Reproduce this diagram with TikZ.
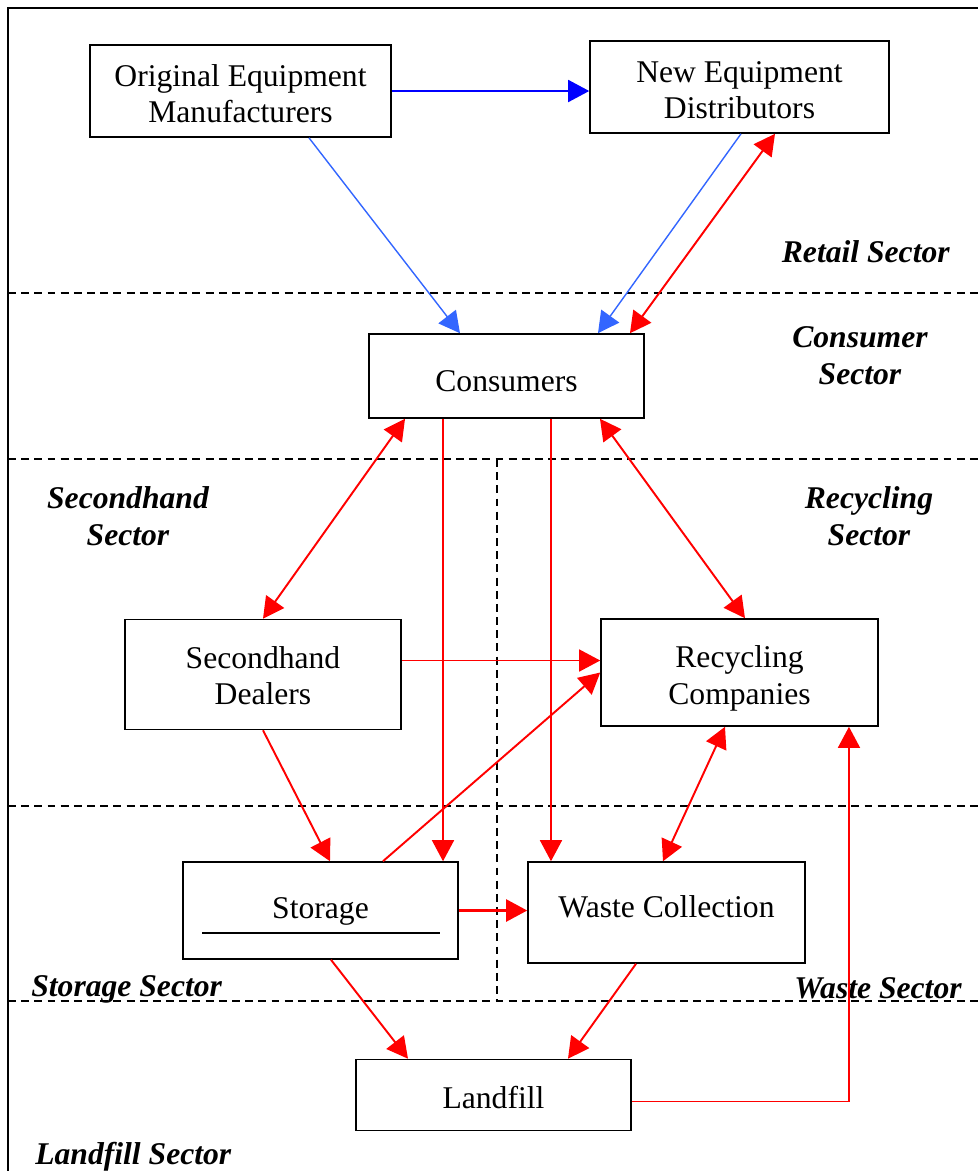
\documentclass[tikz,border=0pt]{standalone}
\usepackage{fontspec}
\setmainfont{Liberation Serif}
\usetikzlibrary{arrows.meta}

\definecolor{supplyblue}{RGB}{51,102,255}
\newcommand{\labelsize}{\fontsize{18}{21}\selectfont}
\newcommand{\tip}{Triangle[length=12pt,width=12.5pt]}

\tikzstyle{box}=[draw,line width=0.9pt,rectangle,align=center,inner sep=0pt]
\tikzstyle{sector}=[font=\labelsize\bfseries\itshape,align=center,inner sep=0pt]
\tikzstyle{divider}=[draw,line width=1pt,dash pattern=on 4.5pt off 3pt]
\tikzstyle{flow}=[draw,line width=1.1pt,red,-{\tip}]
\tikzstyle{twoway}=[draw,line width=1.1pt,red,{\tip}-{\tip}]
\tikzstyle{supply}=[draw,line width=0.8pt,supplyblue,-{\tip}]

\begin{document}
\begin{tikzpicture}[x=0.02cm, y=-0.02cm, font=\labelsize]
    \useasboundingbox (0,0) rectangle (978,1171);
    % frame and sector dividers
    \draw[line width=1pt] (8,1171) -- (8,8) -- (978,8);
    \foreach \y in {293,459,806,1001}
        \path[divider] (8,\y) -- (978,\y);
    \path[divider, line width=0.8pt] (497,459) -- (497,1001);

    % the boxes (\lift sets where the text sits in the box)
    \foreach \pos/\name/\bw/\bh/\lift/\txt in {{(240.5,91)/oem/6.02/1.84/23.4/Original Equipment\\Manufacturers},
        {(739.5,87)/ned/5.98/1.84/23.4/New Equipment\\Distributors},
        {(506.5,376)/cons/5.5/1.68/25.8/Consumers},
        {(263,674.5)/sh/5.52/2.2/21.6/Secondhand\\Dealers},
        {(739.5,672.5)/rec/5.54/2.14/23.8/Recycling\\Companies},
        {(320.5,910.5)/stor/5.5/1.94/16.6/Storage},
        {(666.5,912.5)/waste/5.54/2.02/14.2/Waste Collection},
        {(493.5,1095)/land/5.5/1.42/23.6/Landfill}}
        \node[box, minimum width=\bw cm, minimum height=\bh cm] (\name) at \pos
            {\rule{0pt}{\lift pt}\txt\rule[-8pt]{0pt}{0pt}};
    \draw[line width=1.2pt] ([xshift=0.4cm,yshift=-0.45cm]stor.west) -- ([xshift=-0.38cm,yshift=-0.45cm]stor.east);

    % sector names
    \node[sector, anchor=east] (retail) at (950,252) {Retail Sector};
    \node[sector] (consumer) at (860,356) {Consumer\\Sector};
    \node[sector] (secondhand) at (128,516) {Secondhand\\Sector};
    \node[sector] (recycling) at (869,516) {Recycling\\Sector};
    \node[sector, anchor=west] (storage) at (31,989) {Storage Sector};
    \node[sector, anchor=east] (wastesec) at (962,988) {Waste Sector};
    \node[sector, anchor=west] (landfill) at (35,1157) {Landfill Sector};

    % new goods
    \path[supply, blue, line width=1.2pt] (oem.east) -- (oem.east -| ned.west);
    \foreach \source/\sx/\dest/\dx in {oem.south/1.37/cons.north/-0.93, ned.south/0.03/cons.north/1.83}
        \path[supply] ([xshift=\sx cm]\source) -- ([xshift=\dx cm]\dest);

    % used goods
    \foreach \source/\sx/\dest/\dx in {ned.south/0.71/cons.north/2.47, cons.south/-2.03/sh.north/0,
        cons.south/1.87/rec.north/0.11, rec.south/-0.29/waste.north/-0.07}
        \path[twoway] ([xshift=\sx cm]\source) -- ([xshift=\dx cm]\dest);
    \foreach \source/\sx/\dest/\dx in {sh.south/0/stor.north/0.19, stor.north/1.25/rec.west/0,
        stor.south/0.21/land.north/-1.71, waste.south/-0.61/land.north/1.49}
        \path[flow] ([xshift=\sx cm]\source) -- ([xshift=\dx cm]\dest);
    \path[flow] ([xshift=-1.27cm]cons.south) -- ([xshift=-1.27cm]cons.south |- stor.north);
    \path[flow] ([xshift=0.89cm]cons.south) -- ([xshift=0.89cm]cons.south |- waste.north);
    \path[flow] ([yshift=0.28cm]sh.east) -- ([yshift=0.28cm]sh.east -| rec.west);
    \path[flow, line width=1.5pt] (stor.east) -- (stor.east -| waste.west);
    \path[flow] ([yshift=-0.13cm]land.east) -| ([xshift=2.19cm]rec.south);
\end{tikzpicture}
\end{document}
